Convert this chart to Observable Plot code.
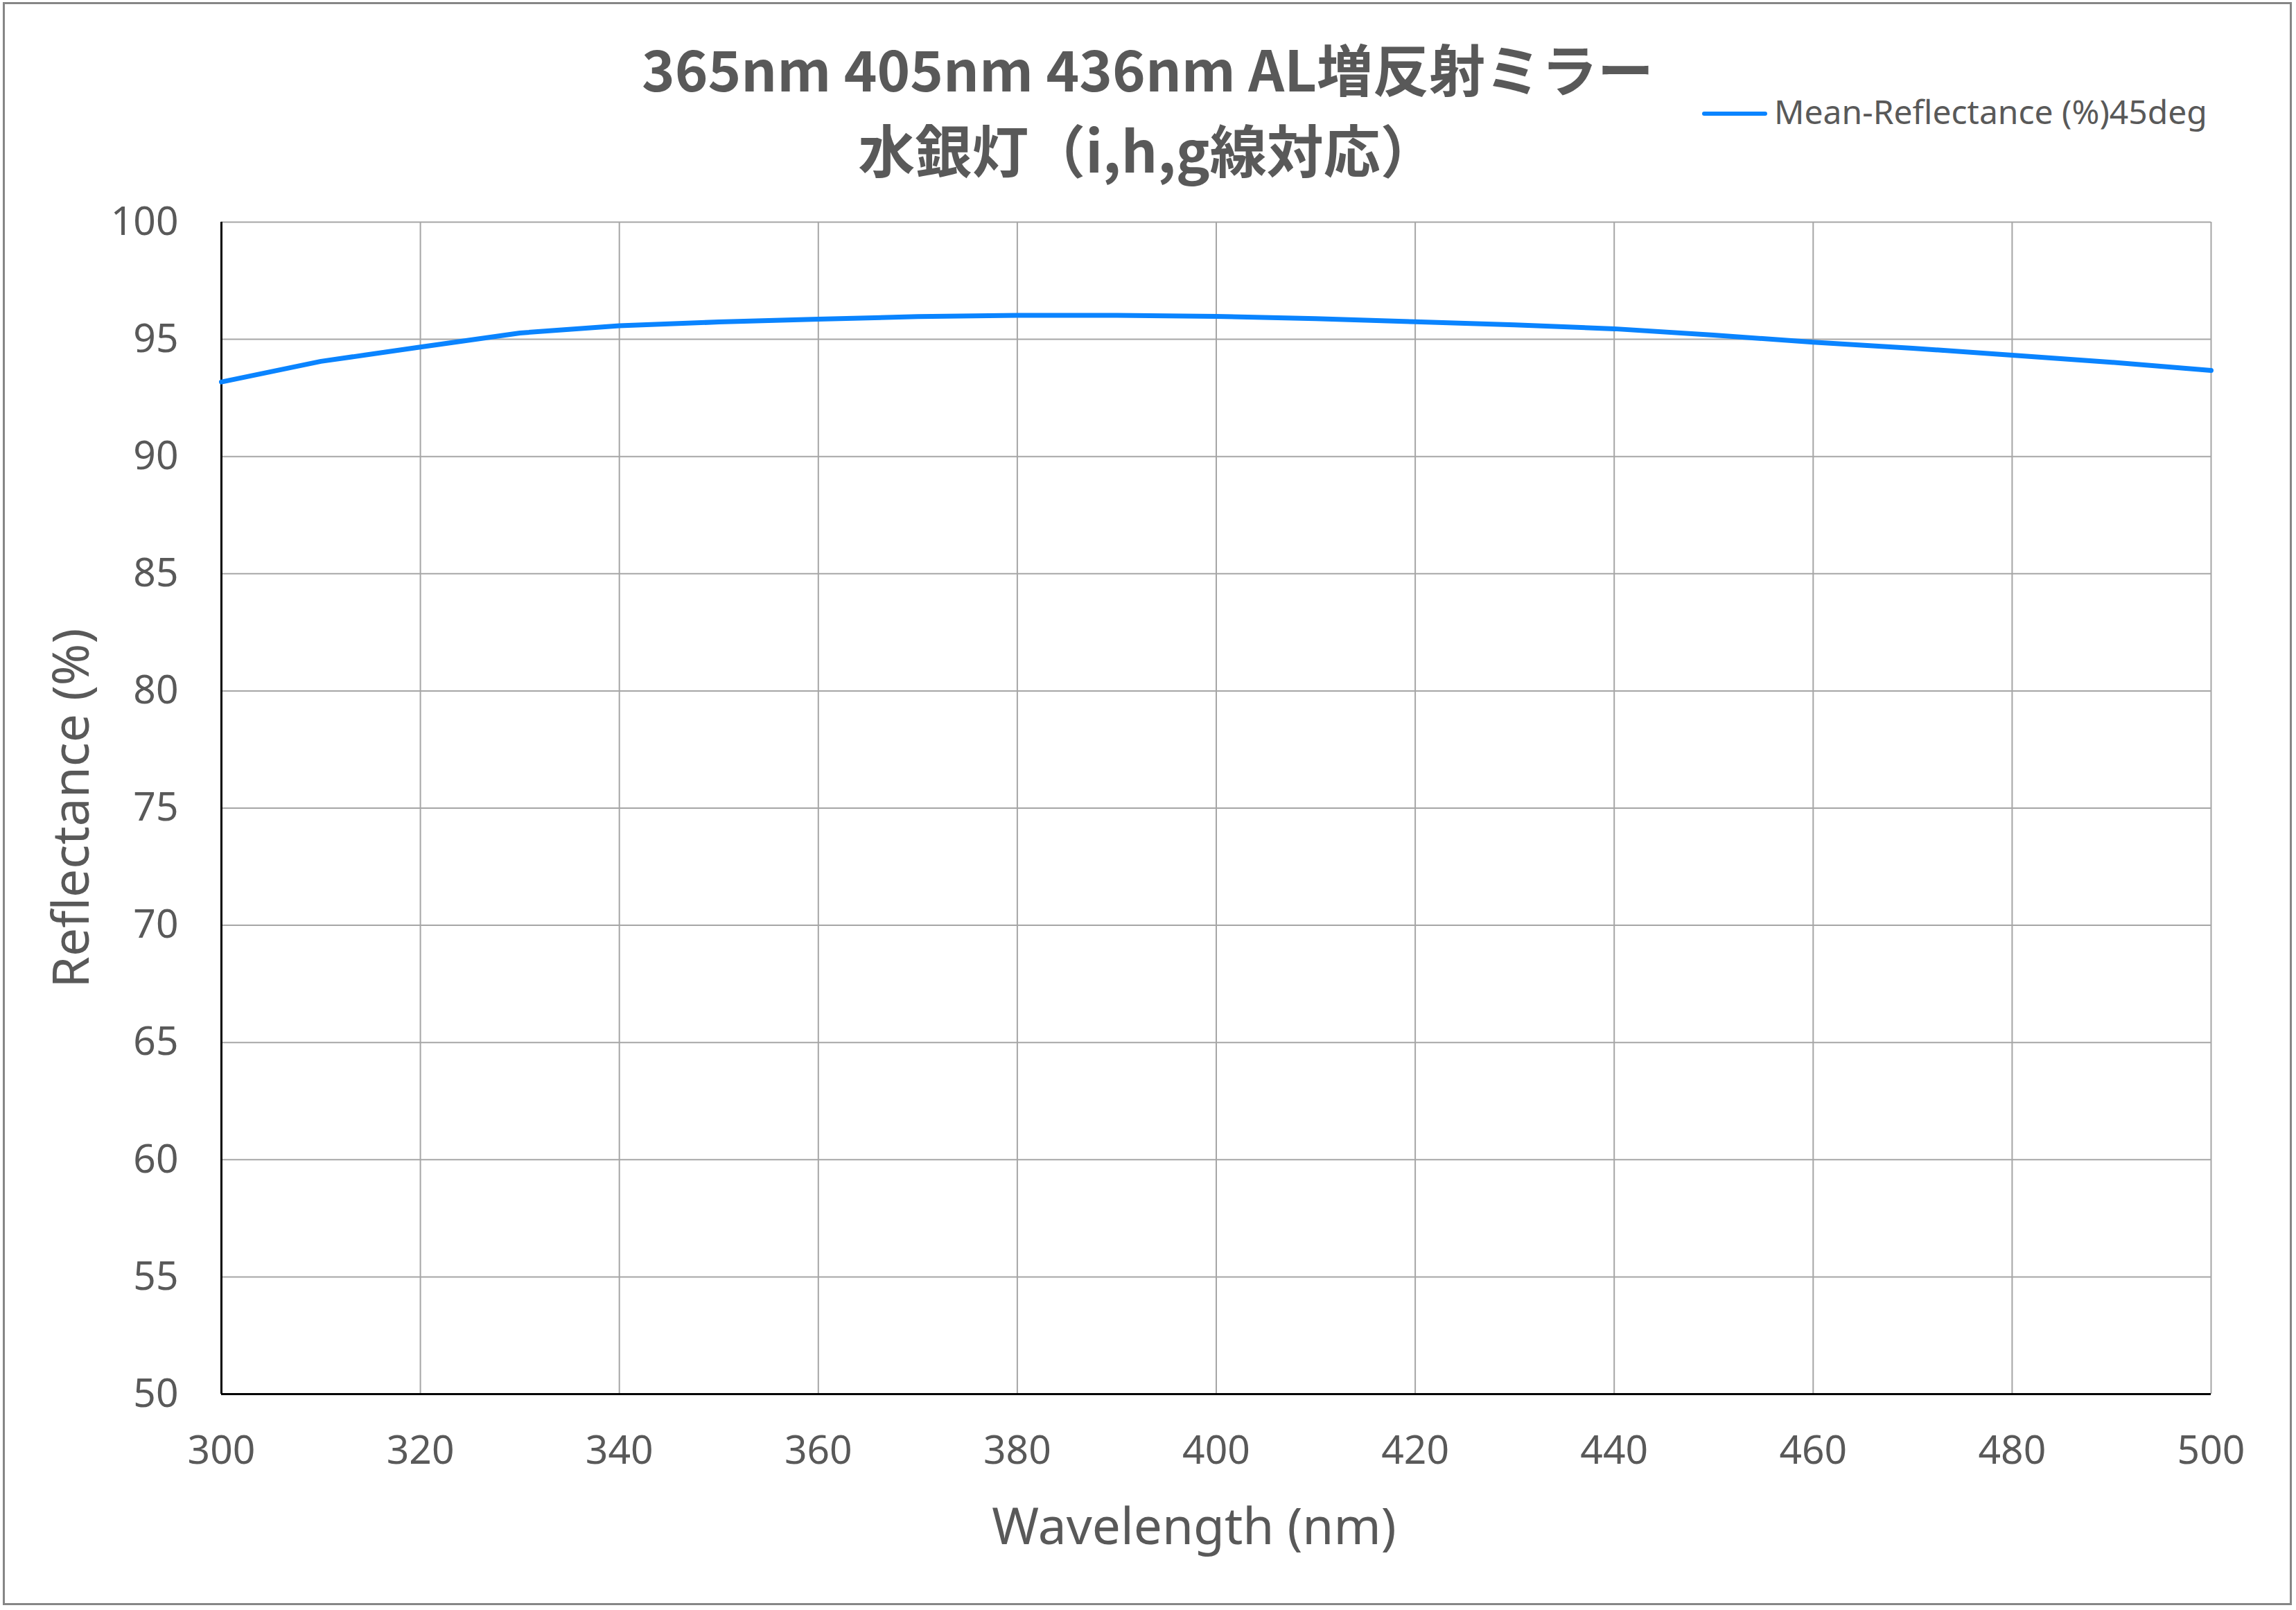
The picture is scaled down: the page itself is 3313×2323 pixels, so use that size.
<!DOCTYPE html>
<html>
<head>
<meta charset="utf-8">
<script src="https://cdn.jsdelivr.net/npm/d3@7"></script>
<script src="https://cdn.jsdelivr.net/npm/@observablehq/plot@0.6"></script>
<style>
  html, body { margin: 0; padding: 0; background: #fff; overflow: hidden; }
  #wrap { position: relative; width: 3313px; height: 2323px; background: #fff; }
  #wrap > svg { position: absolute; left: 0; top: 0; }
</style>
</head>
<body>
<div id="wrap"></div>
<script>
// ---- Data ----
const titleLines = ["365nm 405nm 436nm AL増反射ミラー", "水銀灯（i,h,g線対応）"];
const seriesName = "Mean-Reflectance (%)45deg";
const xLabel = "Wavelength (nm)";
const yLabel = "Reflectance (%)";

const wavelength = [300, 310, 320, 330, 340, 350, 360, 370, 380, 390, 400,
                    410, 420, 430, 440, 450, 460, 470, 480, 490, 500];
const reflectance = [93.18, 94.06, 94.67, 95.27, 95.58, 95.74, 95.86, 95.97, 96.02, 96.02, 95.98,
                     95.88, 95.75, 95.62, 95.45, 95.18, 94.88, 94.62, 94.32, 94.02, 93.67];

const xTicks = [300, 320, 340, 360, 380, 400, 420, 440, 460, 480, 500];
const yTicks = [50, 55, 60, 65, 70, 75, 80, 85, 90, 95, 100];

const data = wavelength.map((w, i) => ({wl: w, r: reflectance[i]}));

// ---- Layout ----
const W = 3313, H = 2323;
const textColor = "#595959";
const lineColor = "#0A84FF";
const gridColor = "#A6A6A6";
const font = '"Noto Sans", "DejaVu Sans", sans-serif';

const chart = Plot.plot({
  width: W,
  height: H,
  marginTop: 320,
  marginLeft: 319,
  marginRight: 123,
  marginBottom: 312,
  style: {fontFamily: font, background: "transparent", overflow: "visible"},
  x: {domain: [300, 500]},
  y: {domain: [50, 100]},
  marks: [
    Plot.gridX({ticks: xTicks, stroke: gridColor, strokeOpacity: 1, strokeWidth: 2}),
    Plot.gridY({ticks: yTicks, stroke: gridColor, strokeOpacity: 1, strokeWidth: 2}),
    Plot.ruleX([300], {stroke: "#000", strokeWidth: 3}),
    Plot.ruleY([50], {stroke: "#000", strokeWidth: 3}),
    Plot.line(data, {x: "wl", y: "r", stroke: lineColor, strokeWidth: 7, strokeLinejoin: "round", strokeLinecap: "round"}),
    Plot.axisX({ticks: xTicks, tickSize: 0, tickPadding: 60, fontSize: 57, color: textColor, label: null, tickFormat: d => String(d)}),
    Plot.axisY({ticks: yTicks, tickSize: 0, tickPadding: 62, fontSize: 57, color: textColor, label: null, tickFormat: d => String(d)})
  ]
});

const wrap = document.getElementById("wrap");
wrap.appendChild(chart);

// ---- Overlay: border, title, axis titles, legend ----
const ov = d3.select(wrap).append("svg")
  .attr("width", W).attr("height", H)
  .style("pointer-events", "none");

ov.append("rect")
  .attr("x", 5.5).attr("y", 4.5).attr("width", 3300).attr("height", 2310)
  .attr("fill", "none").attr("stroke", "#868686").attr("stroke-width", 3);

const title = ov.append("text")
  .attr("text-anchor", "middle")
  .attr("fill", textColor)
  .attr("font-family", '"Noto Sans CJK JP", "Noto Sans", sans-serif')
  .attr("font-weight", "bold")
  .attr("font-size", 81);
title.append("tspan").attr("x", 1656).attr("y", 132).text(titleLines[0]);
title.append("tspan").attr("x", 1656).attr("y", 249).attr("font-size", 82).text(titleLines[1]);

ov.append("text")
  .attr("x", 1723).attr("y", 2228)
  .attr("text-anchor", "middle")
  .attr("fill", textColor)
  .attr("font-family", font)
  .attr("font-size", 73)
  .text(xLabel);

ov.append("text")
  .attr("transform", "translate(128,1166) rotate(-90)")
  .attr("text-anchor", "middle")
  .attr("fill", textColor)
  .attr("font-family", font)
  .attr("font-size", 73)
  .text(yLabel);

// legend
ov.append("line")
  .attr("x1", 2459).attr("x2", 2547).attr("y1", 164).attr("y2", 164)
  .attr("stroke", lineColor).attr("stroke-width", 6).attr("stroke-linecap", "round");
ov.append("text")
  .attr("x", 2560).attr("y", 179)
  .attr("fill", textColor)
  .attr("font-family", font)
  .attr("font-size", 48)
  .text(seriesName);
</script>
</body>
</html>
